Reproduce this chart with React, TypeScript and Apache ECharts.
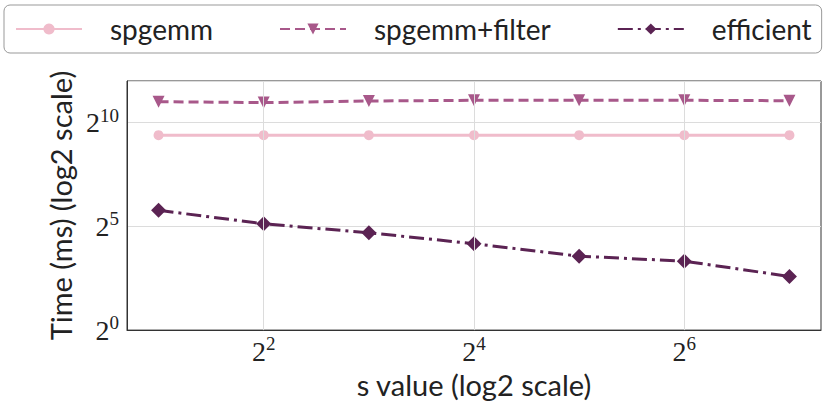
import React, { useEffect, useRef } from "react";
import * as echarts from "echarts";

const sValues = [2, 4, 8, 16, 32, 64, 128];
const spgemm = [672, 672, 672, 672, 672, 672, 672];
const spgemmFilter = [2050, 1990, 2100, 2150, 2150, 2150, 2120];
const efficient = [54.6, 34.8, 25.8, 17.9, 11.8, 10.0, 6.0];
const xGridTicks = [4, 16, 64];
const seriesNames = ["spgemm", "spgemm+filter", "efficient"];
const colors = ["#f0bccb", "#a8588a", "#5b2353"];

const SANS = "Lato";
const SERIF = "Liberation Serif";

function powLabel(value: number, keep: (e: number) => boolean) {
  const e = Math.log2(value);
  const r = Math.round(e);
  if (Math.abs(e - r) > 1e-6 || !keep(r)) return "";
  return `{b|2}{s|${r}}`;
}

const richPow = {
  b: { fontFamily: SERIF, fontSize: 28, color: "#222", lineHeight: 34 },
  s: { fontFamily: SERIF, fontSize: 19, color: "#222", verticalAlign: "top", lineHeight: 22 },
};

export default function App() {
  const ref = useRef<HTMLDivElement>(null);
  useEffect(() => {
    if (!ref.current) return;
    const chart = echarts.init(ref.current, null, { renderer: "svg" });
    const mk = (arr: number[]) => arr.map((v, i) => [sValues[i], v]);
    chart.setOption({
      animation: false,
      backgroundColor: "#fff",
      legend: {
        left: 4,
        top: 5,
        padding: [10, 10, 10, 11],
        itemWidth: 66,
        itemHeight: 14,
        itemGap: 66,
        borderColor: "#999",
        borderWidth: 1,
        borderRadius: 6,
        textStyle: { fontFamily: SANS, fontSize: 28, color: "#222", padding: [0, 0, 0, 23] },
        data: seriesNames,
      },
      grid: { left: 127, right: 10, top: 81, bottom: 73, show: true, borderColor: "#333", borderWidth: 1 },
      xAxis: {
        type: "log",
        logBase: 2,
        min: Math.pow(2, 0.7),
        max: Math.pow(2, 7.3),
        name: "s value (log2 scale)",
        nameLocation: "middle",
        nameGap: 36,
        nameTextStyle: { fontFamily: SANS, fontSize: 29, color: "#222" },
        axisLine: { show: true, lineStyle: { color: "#333" } },
        axisTick: { show: false },
        splitLine: { show: false },
        axisLabel: {
          formatter: (v: number) => powLabel(v, (e) => e % 2 === 0),
          rich: richPow,
          margin: 4,
        },
      },
      yAxis: {
        type: "log",
        logBase: 2,
        min: 1,
        max: 4096,
        interval: 5,
        name: "Time (ms) (log2 scale)",
        nameLocation: "middle",
        nameGap: 40,
        nameTextStyle: { fontFamily: SANS, fontSize: 29, color: "#222" },
        axisLine: { show: true, lineStyle: { color: "#333" } },
        axisTick: { show: false },
        splitLine: { show: true, lineStyle: { color: "#dcdcdc", width: 1 } },
        axisLabel: {
          formatter: (v: number) => powLabel(v, (e) => e % 5 === 0),
          rich: richPow,
          margin: 8,
        },
      },
      series: [
        {
          name: "grid",
          type: "line",
          data: [],
          z: 1,
          markLine: {
            silent: true,
            symbol: "none",
            label: { show: false },
            lineStyle: { color: "#dcdcdc", width: 1, type: "solid" },
            data: xGridTicks.map((x) => ({ xAxis: x })),
          },
        },
        {
          name: seriesNames[0],
          type: "line",
          z: 3,
          data: mk(spgemm),
          symbol: "circle",
          symbolSize: 10,
          itemStyle: { color: colors[0] },
          lineStyle: { color: colors[0], width: 3 },
        },
        {
          name: seriesNames[1],
          type: "line",
          z: 3,
          data: mk(spgemmFilter),
          symbol: "triangle",
          symbolRotate: 180,
          symbolSize: 12,
          itemStyle: { color: colors[1] },
          lineStyle: { color: colors[1], width: 3, type: [10, 5] },
        },
        {
          name: seriesNames[2],
          type: "line",
          z: 3,
          data: mk(efficient),
          symbol: "diamond",
          symbolSize: 15,
          itemStyle: { color: colors[2] },
          lineStyle: { color: colors[2], width: 3, type: [15, 5, 3, 5] },
        },
      ],
    });
    return () => chart.dispose();
  }, []);
  return <div ref={ref} style={{ width: 831, height: 404, position: "absolute", left: 0, top: 0 }} />;
}
